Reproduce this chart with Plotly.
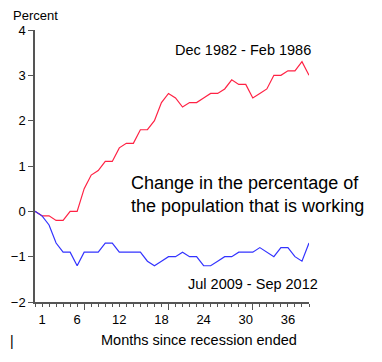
import plotly.graph_objects as go

months = list(range(0, 40))
red_1982 = [0, -0.1, -0.1, -0.2, -0.2, 0, 0, 0.5, 0.8, 0.9,
            1.1, 1.1, 1.4, 1.5, 1.5, 1.8, 1.8, 2.0, 2.4, 2.6,
            2.5, 2.3, 2.4, 2.4, 2.5, 2.6, 2.6, 2.7, 2.9, 2.8,
            2.8, 2.5, 2.6, 2.7, 3.0, 3.0, 3.1, 3.1, 3.3, 3.0]
blue_2009 = [0, -0.1, -0.3, -0.7, -0.9, -0.9, -1.2, -0.9, -0.9, -0.9,
             -0.7, -0.7, -0.9, -0.9, -0.9, -0.9, -1.1, -1.2, -1.1, -1.0,
             -1.0, -0.9, -1.0, -1.0, -1.2, -1.2, -1.1, -1.0, -1.0, -0.9,
             -0.9, -0.9, -0.8, -0.9, -1.0, -0.8, -0.8, -1.0, -1.1, -0.7]
x_labels = [1, 6, 12, 18, 24, 30, 36]
x_major = [7, 19, 31]
y_ticks = [-2, -1, 0, 1, 2, 3, 4]

FONT = "Liberation Sans, Arial, sans-serif"
AX = "#555555"

fig = go.Figure()
fig.add_trace(go.Scatter(x=months, y=red_1982, mode="lines",
                         line=dict(color="#ff2244", width=1.2), showlegend=False))
fig.add_trace(go.Scatter(x=months, y=blue_2009, mode="lines",
                         line=dict(color="#3333ff", width=1.2), showlegend=False))
# invisible trace for label axis
fig.add_trace(go.Scatter(x=[0], y=[0], xaxis="x2", mode="markers",
                         marker=dict(opacity=0), showlegend=False, hoverinfo="skip"))

fig.update_layout(
    width=382, height=362,
    margin=dict(l=35, r=73, t=30, b=60),
    paper_bgcolor="white", plot_bgcolor="white",
    font=dict(family=FONT, size=13, color="black"),
    xaxis=dict(range=[0, 39], tickmode="array", tickvals=x_major, ticktext=["" for _ in x_major],
               ticks="outside", ticklen=6, tickcolor=AX, tickwidth=1, automargin=False,
               minor=dict(tickmode="linear", tick0=0, dtick=1, ticks="outside", ticklen=3, tickcolor=AX),
               showline=True, linecolor=AX, linewidth=1.5, showgrid=False, zeroline=False),
    xaxis2=dict(range=[0, 39], overlaying="x", matches="x", side="bottom", automargin=False,
                tickmode="array", tickvals=x_labels, ticktext=[str(v) for v in x_labels],
                ticks="outside", ticklen=5, tickcolor="rgba(0,0,0,0)",
                showline=False, showgrid=False, zeroline=False,
                tickfont=dict(size=13, family=FONT)),
    yaxis=dict(range=[-2, 4], tickmode="array", tickvals=y_ticks, automargin=False,
               ticks="outside", ticklen=5, tickcolor=AX,
               showline=True, linecolor=AX, linewidth=1.5, showgrid=False, zeroline=False,
               tickfont=dict(size=13, family=FONT)),
)

fig.add_annotation(text="Percent", xref="paper", yref="paper", x=0.0, y=1.0, yshift=15,
                   xanchor="center", yanchor="middle", showarrow=False, font=dict(size=13))
fig.add_annotation(text="Dec 1982 - Feb 1986", x=19.6, y=3.55, xanchor="left", yanchor="middle",
                   showarrow=False, font=dict(size=14.5))
fig.add_annotation(text="Change in the percentage of<br>the population that is working",
                   x=13.4, y=0.37, xanchor="left", yanchor="middle", align="left",
                   showarrow=False, font=dict(size=18))
fig.add_annotation(text="Jul 2009 - Sep 2012", x=21.5, y=-1.6, xanchor="left", yanchor="middle",
                   showarrow=False, font=dict(size=14.5))
fig.add_annotation(text="Months since recession ended", xref="paper", yref="paper",
                   x=0.6, y=0, yshift=-38, xanchor="center", yanchor="middle",
                   showarrow=False, font=dict(size=14.5))
fig.add_annotation(text="|", xref="paper", yref="paper", x=-0.085, y=0, yshift=-39,
                   xanchor="center", yanchor="middle", showarrow=False, font=dict(size=14))

fig.write_html("out.html", config={"displayModeBar": False},
               post_script="document.body.style.margin='0px';")
